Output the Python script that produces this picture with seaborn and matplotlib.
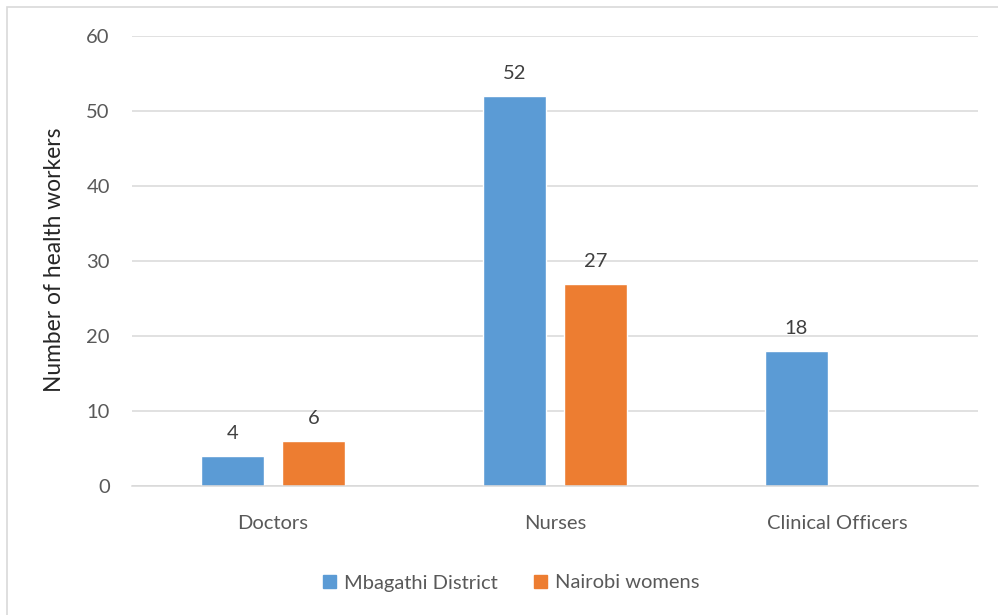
import matplotlib
matplotlib.use("Agg")
import matplotlib.pyplot as plt
import matplotlib.patches as mpatches
import numpy as np
import pandas as pd
import seaborn as sns

categories = ["Doctors", "Nurses", "Clinical Officers"]
series_names = ["Mbagathi District", "Nairobi womens"]
mbagathi = [4, 52, 18]
nairobi = [6, 27, np.nan]
y_ticks = [0, 10, 20, 30, 40, 50, 60]
y_label = "Number of health workers"

colors = ["#5B9BD5", "#ED7D31"]
text_color = "#595959"
dark_text = "#404040"
grid_color = "#D9D9D9"

sns.set_theme(style="white")
plt.rcParams["font.family"] = ["Lato", "DejaVu Sans"]

df = pd.DataFrame({
    "category": categories * 2,
    "series": [series_names[0]] * 3 + [series_names[1]] * 3,
    "value": mbagathi + nairobi,
})

fig = plt.figure(figsize=(9.98, 6.15), dpi=100)
fig.patches.append(mpatches.Rectangle((7 / 998, -0.1), 1.2, (615 - 7) / 615 + 0.1,
                                      transform=fig.transFigure, fill=False,
                                      edgecolor="#D9D9D9", linewidth=1.2))
ax = fig.add_axes([132 / 998, 129 / 615, 846 / 998, 450 / 615])

sns.barplot(data=df, x="category", y="value", hue="series", order=categories,
            hue_order=series_names, palette=colors, width=0.574, gap=0.22,
            errorbar=None, saturation=1, ax=ax, legend=False)

ax.set_ylim(0, 60)
ax.set_xlim(-0.5, 2.5)
ax.set_yticks(y_ticks)
ax.yaxis.grid(True, color=grid_color, linewidth=1.1)
ax.set_axisbelow(True)
for side in ["top", "right", "left"]:
    ax.spines[side].set_visible(False)
ax.spines["bottom"].set_color(grid_color)
ax.spines["bottom"].set_linewidth(1.1)
ax.tick_params(axis="both", length=0, labelsize=14.5, labelcolor=text_color)
ax.tick_params(axis="y", pad=16)
ax.tick_params(axis="x", pad=21)
ax.set_xlabel("")
ax.set_ylabel("")
fig.text(55 / 998, 1 - 260 / 615, y_label, rotation=90, ha="center", va="center",
         fontsize=16.4, color="#262626")

for container in ax.containers:
    labels = ["" if np.isnan(v) else f"{v:g}" for v in container.datavalues]
    ax.bar_label(container, labels=labels, padding=10, fontsize=14.5, color=dark_text)

handles = [mpatches.Patch(color=c, label=n) for c, n in zip(colors, series_names)]
fig.legend(handles=handles, loc="center", bbox_to_anchor=(511 / 998, 1 - 583 / 615),
           ncol=2, frameon=False, fontsize=14.5, labelcolor=text_color,
           handlelength=0.65, handleheight=0.65, handletextpad=0.4, columnspacing=1.8)

fig.savefig("out.png", dpi=100)
